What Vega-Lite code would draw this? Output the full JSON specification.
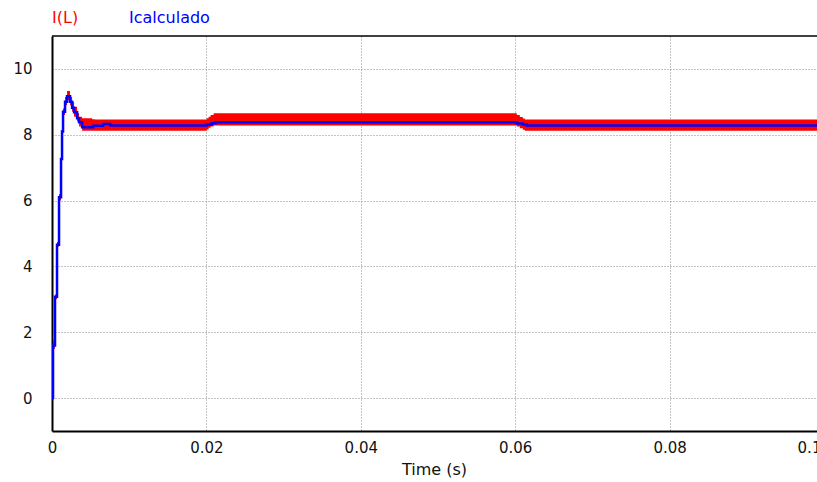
{
  "$schema": "https://vega.github.io/schema/vega-lite/v6.json",
  "width": 772,
  "height": 395,
  "autosize": {"type": "none"},
  "padding": {"left": 52, "top": 36, "right": -7, "bottom": 51},
  "background": "white",
  "config": {"view": {"stroke": null}, "font": "DejaVu Sans"},
  "datasets": {
    "red": [
      {"t": 0, "lo": 0, "hi": 0.05, "s": "I(L)"},
      {"t": 0.00013, "lo": 1.5, "hi": 1.75, "s": "I(L)"},
      {"t": 0.00039, "lo": 3.0, "hi": 3.15, "s": "I(L)"},
      {"t": 0.00065, "lo": 4.6, "hi": 4.75, "s": "I(L)"},
      {"t": 0.00091, "lo": 6.0, "hi": 6.2, "s": "I(L)"},
      {"t": 0.00117, "lo": 7.2, "hi": 7.4, "s": "I(L)"},
      {"t": 0.0013, "lo": 8.0, "hi": 8.2, "s": "I(L)"},
      {"t": 0.00143, "lo": 8.6, "hi": 8.8, "s": "I(L)"},
      {"t": 0.00169, "lo": 8.9, "hi": 9.15, "s": "I(L)"},
      {"t": 0.00195, "lo": 9.05, "hi": 9.33, "s": "I(L)"},
      {"t": 0.00234, "lo": 8.9, "hi": 9.15, "s": "I(L)"},
      {"t": 0.0026, "lo": 8.7, "hi": 9.0, "s": "I(L)"},
      {"t": 0.00286, "lo": 8.55, "hi": 8.85, "s": "I(L)"},
      {"t": 0.00325, "lo": 8.4, "hi": 8.65, "s": "I(L)"},
      {"t": 0.00351, "lo": 8.25, "hi": 8.55, "s": "I(L)"},
      {"t": 0.0039, "lo": 8.12, "hi": 8.5, "s": "I(L)"},
      {"t": 0.0052, "lo": 8.12, "hi": 8.47, "s": "I(L)"},
      {"t": 0.00559, "lo": 8.12, "hi": 8.46, "s": "I(L)"},
      {"t": 0.02003, "lo": 8.16, "hi": 8.5, "s": "I(L)"},
      {"t": 0.02029, "lo": 8.21, "hi": 8.55, "s": "I(L)"},
      {"t": 0.02055, "lo": 8.25, "hi": 8.6, "s": "I(L)"},
      {"t": 0.02094, "lo": 8.28, "hi": 8.65, "s": "I(L)"},
      {"t": 0.05995, "lo": 8.28, "hi": 8.65, "s": "I(L)"},
      {"t": 0.06021, "lo": 8.25, "hi": 8.6, "s": "I(L)"},
      {"t": 0.0606, "lo": 8.2, "hi": 8.54, "s": "I(L)"},
      {"t": 0.06099, "lo": 8.15, "hi": 8.49, "s": "I(L)"},
      {"t": 0.06125, "lo": 8.12, "hi": 8.46, "s": "I(L)"},
      {"t": 0.1, "lo": 8.12, "hi": 8.46, "s": "I(L)"}
    ],
    "blue": [
      {"t": 0, "v": 0, "s": "Icalculado"},
      {"t": 0.00013, "v": 1.6, "s": "Icalculado"},
      {"t": 0.00039, "v": 3.08, "s": "Icalculado"},
      {"t": 0.00065, "v": 4.66, "s": "Icalculado"},
      {"t": 0.00091, "v": 6.1, "s": "Icalculado"},
      {"t": 0.00117, "v": 7.26, "s": "Icalculado"},
      {"t": 0.0013, "v": 8.1, "s": "Icalculado"},
      {"t": 0.00143, "v": 8.7, "s": "Icalculado"},
      {"t": 0.00169, "v": 9.0, "s": "Icalculado"},
      {"t": 0.00195, "v": 9.17, "s": "Icalculado"},
      {"t": 0.00234, "v": 9.0, "s": "Icalculado"},
      {"t": 0.0026, "v": 8.82, "s": "Icalculado"},
      {"t": 0.00286, "v": 8.68, "s": "Icalculado"},
      {"t": 0.00325, "v": 8.5, "s": "Icalculado"},
      {"t": 0.00351, "v": 8.38, "s": "Icalculado"},
      {"t": 0.0039, "v": 8.23, "s": "Icalculado"},
      {"t": 0.00533, "v": 8.27, "s": "Icalculado"},
      {"t": 0.00663, "v": 8.33, "s": "Icalculado"},
      {"t": 0.00754, "v": 8.28, "s": "Icalculado"},
      {"t": 0.02003, "v": 8.31, "s": "Icalculado"},
      {"t": 0.02068, "v": 8.35, "s": "Icalculado"},
      {"t": 0.0212, "v": 8.38, "s": "Icalculado"},
      {"t": 0.06021, "v": 8.34, "s": "Icalculado"},
      {"t": 0.06099, "v": 8.31, "s": "Icalculado"},
      {"t": 0.06151, "v": 8.28, "s": "Icalculado"},
      {"t": 0.1, "v": 8.28, "s": "Icalculado"}
    ],
    "border": [{"top": 11}]
  },
  "layer": [
    {
      "data": {"name": "red"},
      "mark": {"type": "area", "interpolate": "step-after", "clip": true},
      "encoding": {
        "x": {
          "field": "t",
          "type": "quantitative",
          "scale": {"domain": [0, 0.1], "nice": false, "zero": false},
          "axis": {
            "values": [0, 0.02, 0.04, 0.06, 0.08, 0.1],
            "format": "~g",
            "grid": true,
            "gridDash": [1, 2],
            "gridColor": "#888888",
            "gridWidth": 1,
            "domainColor": "#000000",
            "domainWidth": 2,
            "ticks": false,
            "tickSize": 0,
            "labelFlush": false,
            "labelOverlap": false,
            "labelOffset": {"expr": "datum.value > 0.09 ? -15 : 0"},
            "labelFontSize": 15,
            "labelColor": "#111111",
            "labelPadding": 9,
            "title": "Time (s)",
            "titleFontSize": 16,
            "titleFontWeight": "normal",
            "titleColor": "#111111",
            "titlePadding": 6,
            "titleX": 382
          }
        },
        "y": {
          "field": "lo",
          "type": "quantitative",
          "scale": {"domain": [-1, 11], "nice": false, "zero": false},
          "axis": {
            "values": [0, 2, 4, 6, 8, 10],
            "grid": true,
            "gridDash": [1, 2],
            "gridColor": "#888888",
            "gridWidth": 1,
            "domainColor": "#000000",
            "domainWidth": 2,
            "ticks": false,
            "tickSize": 0,
            "labelFlush": false,
            "labelOverlap": false,
            "labelFontSize": 15,
            "labelColor": "#111111",
            "labelPadding": 20,
            "title": null
          }
        },
        "y2": {"field": "hi"},
        "color": {
          "field": "s",
          "type": "nominal",
          "scale": {"domain": ["I(L)", "Icalculado"], "range": ["#ff0000", "#0000ff"]},
          "legend": {
            "orient": "none",
            "legendX": -16,
            "legendY": -26,
            "direction": "horizontal",
            "title": null,
            "padding": 0,
            "symbolSize": 0,
            "symbolOpacity": 0,
            "symbolStrokeWidth": 0,
            "labelOffset": 0,
            "labelFontSize": 16,
            "labelFont": "DejaVu Sans",
            "labelColor": {"expr": "datum.label == 'I(L)' ? '#ff0000' : '#0000ff'"},
            "columnPadding": 34
          }
        }
      }
    },
    {
      "data": {"name": "blue"},
      "mark": {"type": "line", "interpolate": "step-after", "strokeWidth": 2.5, "clip": true},
      "encoding": {
        "x": {"field": "t", "type": "quantitative"},
        "y": {"field": "v", "type": "quantitative"},
        "color": {"field": "s", "type": "nominal"}
      }
    },
    {
      "data": {"name": "border"},
      "mark": {"type": "rule", "color": "#000000", "strokeWidth": 1.5},
      "encoding": {"y": {"field": "top", "type": "quantitative"}}
    }
  ]
}
